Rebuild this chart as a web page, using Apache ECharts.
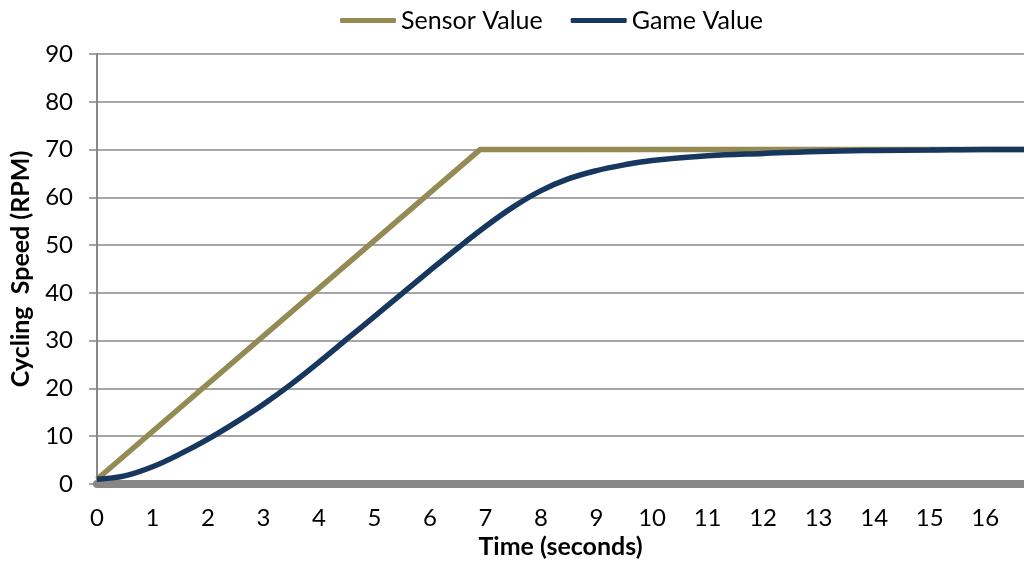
<!DOCTYPE html>
<html>
<head>
<meta charset="utf-8">
<script src="https://cdn.jsdelivr.net/npm/echarts@6/dist/echarts.min.js"></script>
<style>html,body{margin:0;padding:0;background:#fff;}#chart{width:1024px;height:563px;}</style>
</head>
<body>
<div id="chart"></div>
<script>
const seriesNames = ["Sensor Value", "Game Value"];
const sensorTime = [0, 6.9, 16.7];
const sensorValue = [1, 70, 70];
const gameTime = [0, 0.5, 1, 1.5, 2, 2.5, 3, 3.5, 4, 4.5, 5, 5.5, 6, 6.5, 7, 7.5, 8, 8.5, 9, 9.5, 10, 11, 12, 13, 14, 15, 16, 16.7];
const gameValue = [1, 1.7, 3.6, 6.3, 9.4, 12.9, 16.7, 20.9, 25.5, 30.3, 35.1, 39.9, 44.7, 49.4, 53.9, 58.0, 61.4, 63.9, 65.6, 66.8, 67.7, 68.7, 69.2, 69.6, 69.8, 69.9, 70, 70];
const xTitle = "Time (seconds)";
const yTitle = "Cycling  Speed (RPM)";

const FONT = "Lato";
const chart = echarts.init(document.getElementById('chart'), null, {renderer: 'canvas'});
const zip = (a, b) => a.map((v, i) => [v, b[i]]);
chart.setOption({
  animation: false,
  backgroundColor: '#ffffff',
  textStyle: {fontFamily: FONT},
  legend: {
    top: 3, left: 335,
    itemWidth: 56, itemHeight: 5, itemGap: 28,
    icon: 'roundRect',
    textStyle: {fontFamily: FONT, fontSize: 25, color: '#000'},
    data: seriesNames
  },
  grid: {left: 97, right: 0, top: 54, bottom: 79, containLabel: false, outerBoundsMode: 'none'},
  xAxis: {
    type: 'value', min: 0, max: 16.7, interval: 1,
    offset: 4,
    name: xTitle, nameLocation: 'middle', nameGap: 46,
    nameTextStyle: {fontFamily: FONT, fontSize: 25, fontWeight: 'bold', color: '#000'},
    axisLine: {show: true, lineStyle: {color: '#878787', width: 8}},
    axisTick: {show: false},
    axisLabel: {margin: 18, fontSize: 24, color: '#000', fontFamily: FONT, showMaxLabel: false},
    splitLine: {show: false}
  },
  yAxis: {
    type: 'value', min: 0, max: 90, interval: 10,
    name: yTitle, nameLocation: 'middle', nameGap: 64, nameRotate: 90,
    nameTextStyle: {fontFamily: FONT, fontSize: 25, fontWeight: 'bold', color: '#000'},
    axisLine: {show: true, lineStyle: {color: '#878787', width: 2}},
    axisTick: {show: true, length: 8, lineStyle: {color: '#878787', width: 1.5}},
    axisLabel: {margin: 24, fontSize: 24, color: '#000', fontFamily: FONT},
    splitLine: {show: true, lineStyle: {color: '#878787', width: 1.5}}
  },
  series: [
    {
      name: seriesNames[0], type: 'line', data: zip(sensorTime, sensorValue),
      showSymbol: false, symbol: 'none',
      lineStyle: {color: '#948A54', width: 5.5},
      itemStyle: {color: '#948A54'}
    },
    {
      name: seriesNames[1], type: 'line', data: zip(gameTime, gameValue),
      smooth: 0.4, showSymbol: false, symbol: 'none',
      lineStyle: {color: '#17375E', width: 5.5},
      itemStyle: {color: '#17375E'}
    }
  ]
});
</script>
</body>
</html>
